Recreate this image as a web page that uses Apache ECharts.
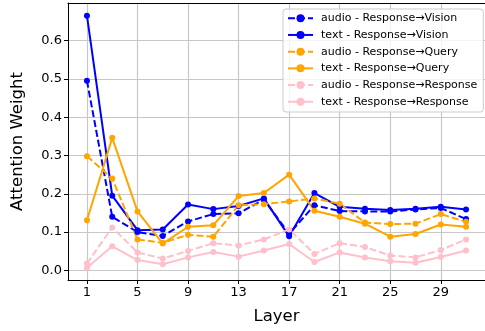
<!DOCTYPE html>
<html>
<head>
<meta charset="utf-8">
<script src="https://cdn.jsdelivr.net/npm/echarts@6/dist/echarts.min.js"></script>
<style>
  html, body { margin: 0; padding: 0; background: #fff; }
  #chart { width: 485px; height: 331px; }
</style>
</head>
<body>
<div id="chart"></div>
<script>
// Layers sampled every other layer
const layers = [1, 3, 5, 7, 9, 11, 13, 15, 17, 19, 21, 23, 25, 27, 29, 31];
const xTicks = [1, 5, 9, 13, 17, 21, 25, 29];
const yTicks = [0.0, 0.1, 0.2, 0.3, 0.4, 0.5, 0.6];

const audioVision   = [0.495, 0.140, 0.100, 0.090, 0.128, 0.147, 0.149, 0.185, 0.096, 0.170, 0.155, 0.154, 0.154, 0.159, 0.163, 0.134];
const textVision    = [0.665, 0.195, 0.105, 0.107, 0.172, 0.160, 0.168, 0.188, 0.089, 0.202, 0.166, 0.161, 0.158, 0.161, 0.166, 0.159];
const audioQuery    = [0.298, 0.240, 0.081, 0.072, 0.093, 0.088, 0.170, 0.173, 0.180, 0.188, 0.174, 0.125, 0.121, 0.122, 0.147, 0.127];
const textQuery     = [0.131, 0.346, 0.154, 0.070, 0.114, 0.118, 0.194, 0.202, 0.250, 0.156, 0.140, 0.122, 0.088, 0.095, 0.120, 0.114];
const audioResponse = [0.018, 0.112, 0.047, 0.031, 0.051, 0.071, 0.065, 0.081, 0.107, 0.043, 0.071, 0.061, 0.039, 0.034, 0.053, 0.081];
const textResponse  = [0.007, 0.063, 0.027, 0.016, 0.034, 0.048, 0.036, 0.052, 0.069, 0.022, 0.047, 0.034, 0.024, 0.020, 0.035, 0.052];

const seriesDefs = [
  { name: 'audio - Response→Vision',   values: audioVision,   color: '#0000ff', dashed: true },
  { name: 'text - Response→Vision',    values: textVision,    color: '#0000ff', dashed: false },
  { name: 'audio - Response→Query',    values: audioQuery,    color: '#ffa500', dashed: true },
  { name: 'text - Response→Query',     values: textQuery,     color: '#ffa500', dashed: false },
  { name: 'audio - Response→Response', values: audioResponse, color: '#ffc0cb', dashed: true },
  { name: 'text - Response→Response',  values: textResponse,  color: '#ffc0cb', dashed: false }
];

const FONT = 'DejaVu Sans';
const gridColor = '#c8c8c8';

const chart = echarts.init(document.getElementById('chart'), null, { renderer: 'canvas' });

chart.setOption({
  animation: false,
  backgroundColor: '#ffffff',
  textStyle: { fontFamily: FONT },
  grid: { left: 68, right: -5, top: 3, bottom: 51, containLabel: false },
  legend: {
    orient: 'vertical',
    left: 283,
    top: 9,
    padding: [3, 6, 4, 4],
    itemWidth: 25,
    itemHeight: 10,
    itemGap: 4.2,
    backgroundColor: 'rgba(255,255,255,0.8)',
    borderColor: '#cccccc',
    borderWidth: 1,
    borderRadius: 3,
    textStyle: { fontFamily: FONT, fontSize: 11, color: '#000', lineHeight: 12.5, padding: [0, 0, 0, 3] },
    data: seriesDefs.map(s => s.name)
  },
  xAxis: [{
    type: 'value',
    min: -0.5,
    max: 32.5,
    name: 'Layer',
    nameLocation: 'middle',
    nameGap: 28,
    nameTextStyle: { fontFamily: FONT, fontSize: 16.5, color: '#000' },
    axisLine: { show: true, onZero: false, lineStyle: { color: '#000', width: 1 } },
    axisTick: { show: true, customValues: xTicks, length: 4, lineStyle: { color: '#000' } },
    axisLabel: { customValues: xTicks, fontFamily: FONT, fontSize: 13, color: '#000', margin: 6 },
    splitLine: { show: true, customValues: xTicks, lineStyle: { color: gridColor, width: 1.2 } }
  }, {
    type: 'value',
    position: 'top',
    min: -0.5,
    max: 32.5,
    axisLine: { show: true, onZero: false, lineStyle: { color: '#000', width: 1 } },
    axisTick: { show: false },
    axisLabel: { show: false },
    splitLine: { show: false }
  }],
  yAxis: {
    type: 'value',
    min: -0.025,
    max: 0.698,
    name: 'Attention Weight',
    nameLocation: 'middle',
    nameGap: 42,
    nameTextStyle: { fontFamily: FONT, fontSize: 16.5, color: '#000' },
    axisLine: { show: true, onZero: false, lineStyle: { color: '#000', width: 1 } },
    axisTick: { show: true, customValues: yTicks, length: 4, lineStyle: { color: '#000' } },
    axisLabel: {
      customValues: yTicks,
      fontFamily: FONT, fontSize: 13, color: '#000', margin: 6,
      formatter: v => v.toFixed(1)
    },
    splitLine: { show: true, customValues: yTicks, lineStyle: { color: gridColor, width: 1.2 } }
  },
  series: seriesDefs.map(s => ({
    name: s.name,
    type: 'line',
    xAxisIndex: 0,
    data: layers.map((l, i) => [l, s.values[i]]),
    symbol: 'circle',
    symbolSize: 6,
    showSymbol: true,
    itemStyle: { color: s.color },
    lineStyle: { color: s.color, width: 2, type: s.dashed ? [7, 3] : 'solid' },
    emphasis: { disabled: true }
  }))
});
</script>
</body>
</html>
